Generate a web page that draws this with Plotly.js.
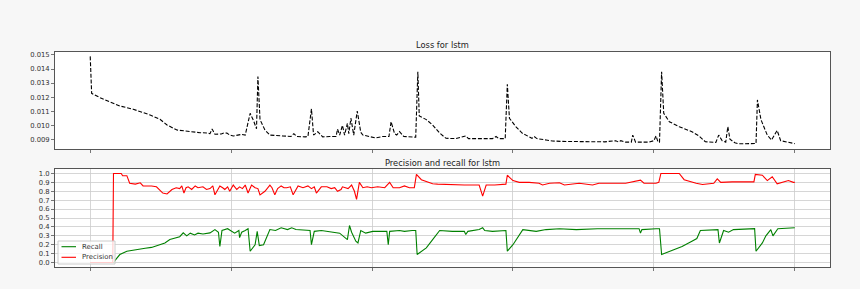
<!DOCTYPE html>
<html>
<head>
<meta charset="utf-8">
<script src="https://cdn.plot.ly/plotly-3.0.1.min.js"></script>
<style>
  html, body { margin: 0; padding: 0; background: #f7f7f7; }
  #chart { width: 860px; height: 289px; }
</style>
</head>
<body>
<div id="chart"></div>
<script>
// ---- Loss for lstm ----
const lossSteps = [0,2,14,42,61,85,99,109,123,137,156,166,170,173,177,186,190,194,198,203,210,215,220,227,232,236,238,241,248,255,273,285,289,293,305,309,314,317,323,330,340,349,351,354,358,361,365,367,370,374,379,384,387,395,405,415,424,427,429,432,435,439,445,455,462,465,467,477,486,496,505,519,533,537,550,560,571,576,580,589,592,595,604,613,627,630,634,647,656,670,690,710,730,746,750,753,760,768,770,774,785,793,800,803,806,808,811,814,822,836,854,864,873,888,892,897,902,905,908,915,921,942,945,947,952,958,961,967,975,980,989,1000];
const lossValues = [0.0149,0.01227,0.01196,0.01137,0.01114,0.01073,0.01042,0.01002,0.00966,0.00957,0.00947,0.00945,0.0094,0.00973,0.00936,0.00938,0.00945,0.00944,0.0093,0.00924,0.0093,0.00935,0.0093,0.01085,0.0103,0.00975,0.01346,0.0104,0.00966,0.0093,0.00924,0.0092,0.0094,0.0092,0.00917,0.0092,0.01116,0.0093,0.00954,0.00917,0.0092,0.0092,0.00973,0.0093,0.00999,0.0093,0.01014,0.0094,0.0105,0.0093,0.01101,0.0095,0.0093,0.0092,0.0091,0.0092,0.0092,0.01025,0.00995,0.0094,0.0093,0.00954,0.0092,0.0092,0.00915,0.01381,0.01066,0.0104,0.01002,0.00944,0.00907,0.00905,0.00924,0.00905,0.00905,0.009,0.00905,0.0092,0.00905,0.00905,0.01292,0.0105,0.0099,0.00944,0.00907,0.0092,0.00905,0.00895,0.00888,0.00885,0.00885,0.0088,0.00882,0.0089,0.0088,0.0089,0.0088,0.0088,0.0093,0.0088,0.0088,0.0088,0.0089,0.00924,0.0088,0.0088,0.01381,0.01085,0.01025,0.0099,0.00954,0.00924,0.00883,0.00878,0.0093,0.0089,0.0088,0.0099,0.009,0.00875,0.00868,0.00868,0.0087,0.0118,0.0104,0.00966,0.0093,0.00895,0.00963,0.0089,0.0088,0.00869];

// ---- Precision and recall for lstm ----
const precisionSteps = [0,32,33,44,46,52,56,64,71,75,87,94,103,109,116,122,127,130,133,136,139,144,149,153,160,165,170,174,177,181,184,188,191,195,198,203,208,212,216,220,224,229,234,238,241,248,255,258,262,266,271,275,279,284,288,295,302,309,314,318,321,328,336,342,347,351,356,358,366,371,375,378,382,387,393,399,408,418,425,430,439,446,453,460,463,470,479,486,493,515,531,552,557,562,574,590,592,600,609,623,637,642,652,666,673,694,713,722,736,760,781,786,803,807,810,836,843,852,860,869,878,885,890,895,911,928,942,944,954,961,968,975,982,991,998,1000];
const precisionValues = [0,0,1.0,1.0,0.975,0.975,0.89,0.88,0.895,0.86,0.86,0.85,0.78,0.77,0.82,0.84,0.83,0.86,0.78,0.84,0.85,0.82,0.86,0.84,0.85,0.82,0.83,0.86,0.76,0.82,0.86,0.84,0.82,0.85,0.8,0.87,0.82,0.85,0.83,0.87,0.78,0.87,0.84,0.83,0.76,0.8,0.87,0.84,0.76,0.83,0.86,0.84,0.84,0.85,0.76,0.86,0.84,0.86,0.83,0.85,0.78,0.85,0.85,0.83,0.84,0.8,0.82,0.85,0.83,0.87,0.8,0.71,0.9,0.84,0.85,0.84,0.85,0.84,0.9,0.84,0.84,0.86,0.84,0.84,0.99,0.93,0.9,0.884,0.88,0.87,0.87,0.87,0.745,0.87,0.87,0.88,0.98,0.92,0.9,0.9,0.89,0.87,0.89,0.895,0.87,0.89,0.87,0.89,0.89,0.89,0.925,0.89,0.89,0.9,1.0,1.0,0.93,0.906,0.89,0.876,0.88,0.89,0.94,0.9,0.905,0.905,0.905,0.99,0.98,0.92,0.963,0.884,0.9,0.92,0.9,0.9];

const recallSteps = [0,34,35,42,52,64,78,87,99,106,113,120,127,132,137,142,148,153,160,170,177,182,184,187,195,205,211,212,215,220,224,227,234,237,240,246,255,263,271,280,286,292,304,312,314,318,328,340,354,365,368,371,377,380,384,391,401,415,421,423,425,439,446,457,462,464,477,486,496,514,531,533,536,552,557,560,571,590,592,600,614,633,647,666,690,720,760,779,781,783,803,808,811,822,840,854,861,866,888,891,893,899,906,913,943,945,954,959,966,969,976,1000];
const recallValues = [0,0,0.022,0.09,0.127,0.146,0.16,0.17,0.2,0.22,0.258,0.277,0.29,0.334,0.3,0.33,0.31,0.33,0.32,0.333,0.37,0.34,0.18,0.36,0.38,0.33,0.36,0.28,0.34,0.36,0.38,0.127,0.2,0.35,0.19,0.2,0.37,0.36,0.39,0.37,0.39,0.37,0.36,0.36,0.2,0.35,0.36,0.35,0.33,0.258,0.416,0.34,0.24,0.22,0.36,0.33,0.35,0.35,0.35,0.2,0.35,0.36,0.35,0.36,0.36,0.09,0.165,0.258,0.36,0.35,0.35,0.315,0.35,0.37,0.39,0.36,0.35,0.36,0.127,0.2,0.37,0.35,0.37,0.38,0.37,0.38,0.38,0.38,0.33,0.37,0.38,0.38,0.09,0.127,0.18,0.24,0.27,0.36,0.37,0.37,0.22,0.36,0.34,0.37,0.38,0.127,0.22,0.3,0.37,0.3,0.38,0.39];

const lossTicks = [0.009,0.010,0.011,0.012,0.013,0.014,0.015];
const prTicks = [0,0.1,0.2,0.3,0.4,0.5,0.6,0.7,0.8,0.9,1.0];
const stepTicks = [0,200,400,600,800,1000];
const legendLabels = ['Recall', 'Precision'];
const legendColors = ['#008000', '#ff0000'];

const W = 860, H = 289;
const xDom = [55 / W, 830 / W];
const topDom = [1 - 149 / H, 1 - 52 / H];
const botDom = [1 - 267 / H, 1 - 169 / H];

const tickFont = { family: 'DejaVu Sans', size: 6.8, color: '#333333' };
const spine = '#555555';

const traces = [
  { x: lossSteps, y: lossValues, xaxis: 'x', yaxis: 'y', type: 'scatter', mode: 'lines',
    line: { color: '#000000', width: 1.1, dash: '4px,1.8px' }, showlegend: false, name: 'loss' },
  { x: recallSteps, y: recallValues, xaxis: 'x2', yaxis: 'y2', type: 'scatter', mode: 'lines',
    line: { color: legendColors[0], width: 1.1 }, name: legendLabels[0], showlegend: false },
  { x: precisionSteps, y: precisionValues, xaxis: 'x2', yaxis: 'y2', type: 'scatter', mode: 'lines',
    line: { color: legendColors[1], width: 1.1 }, name: legendLabels[1], showlegend: false }
];

const xCommon = {
  range: [-50, 1050], tickmode: 'array', tickvals: stepTicks, showticklabels: false,
  ticks: 'outside', ticklen: 3, tickwidth: 0.8, tickcolor: spine,
  showline: true, linecolor: spine, linewidth: 1, mirror: true, zeroline: false
};

// legend box (matplotlib-style, lower left of the lower axes)
const lgL = 58, lgR = 115, lgT = 241, lgB = 264;
const rowY = [246.7, 257.3];
const shapes = [
  { type: 'rect', xref: 'paper', yref: 'paper', x0: lgL / W, x1: lgR / W, y0: 1 - lgB / H, y1: 1 - lgT / H,
    fillcolor: 'rgba(255,255,255,0.8)', line: { color: '#cccccc', width: 1 }, layer: 'above' }
];
const annotations = [
  { text: 'Loss for lstm', xref: 'paper', yref: 'paper', x: (xDom[0] + xDom[1]) / 2,
    y: 1 - 44.5 / H, xanchor: 'center', yanchor: 'middle', showarrow: false,
    font: { family: 'DejaVu Sans', size: 8.3, color: '#222222' } },
  { text: 'Precision and recall for lstm', xref: 'paper', yref: 'paper', x: (xDom[0] + xDom[1]) / 2,
    y: 1 - 162.5 / H, xanchor: 'center', yanchor: 'middle', showarrow: false,
    font: { family: 'DejaVu Sans', size: 8.3, color: '#222222' } }
];
legendLabels.forEach((lab, k) => {
  shapes.push({ type: 'line', xref: 'paper', yref: 'paper', x0: 61.5 / W, x1: 76 / W,
    y0: 1 - rowY[k] / H, y1: 1 - rowY[k] / H, line: { color: legendColors[k], width: 1.1 }, layer: 'above' });
  annotations.push({ text: lab, xref: 'paper', yref: 'paper', x: 80 / W, y: 1 - rowY[k] / H,
    xanchor: 'left', yanchor: 'middle', showarrow: false,
    font: { family: 'DejaVu Sans', size: 6.9, color: '#333333' } });
});

const layout = {
  width: W, height: H,
  margin: { l: 0, r: 0, t: 0, b: 0 },
  paper_bgcolor: '#f7f7f7', plot_bgcolor: '#ffffff',
  font: { family: 'DejaVu Sans', color: '#333333' },
  showlegend: false,
  xaxis: Object.assign({}, xCommon, { domain: xDom, anchor: 'y', showgrid: false }),
  yaxis: { domain: topDom, anchor: 'x', range: [0.00831, 0.01521], tickmode: 'array',
    tickvals: lossTicks, tickformat: '.3f', tickfont: tickFont, ticks: 'outside', ticklen: 3,
    tickwidth: 0.8, tickcolor: spine, showline: true, linecolor: spine, linewidth: 1, mirror: true,
    showgrid: false, zeroline: false },
  xaxis2: Object.assign({}, xCommon, { domain: xDom, anchor: 'y2', showgrid: true,
    gridcolor: '#cccccc', gridwidth: 0.8 }),
  yaxis2: { domain: botDom, anchor: 'x2', range: [-0.05, 1.05], tickmode: 'array',
    tickvals: prTicks, tickformat: '.1f', tickfont: tickFont, ticks: 'outside', ticklen: 3,
    tickwidth: 0.8, tickcolor: spine, showline: true, linecolor: spine, linewidth: 1, mirror: true,
    showgrid: true, gridcolor: '#cccccc', gridwidth: 0.8, zeroline: false },
  shapes: shapes,
  annotations: annotations
};

Plotly.newPlot('chart', traces, layout, { displayModeBar: false, staticPlot: true });
</script>
</body>
</html>
